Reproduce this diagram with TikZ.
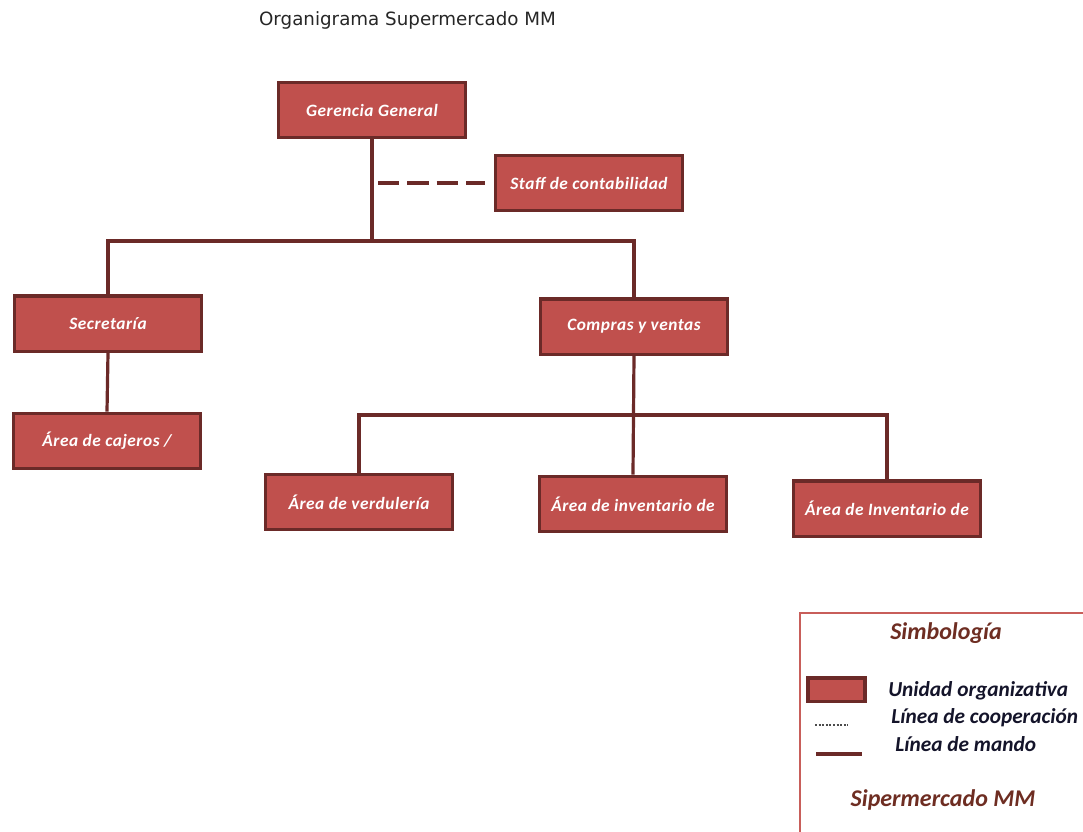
\documentclass[tikz,border=0pt]{standalone}
\usepackage{fontspec}
\setmainfont{Carlito}
\newfontfamily\unitfont[LetterSpace=3]{Carlito}
\newfontfamily\legendfont{Carlito}
\newfontfamily\titlefont{DejaVu Sans}
\definecolor{unitfill}{HTML}{C0504D}
\definecolor{unitline}{HTML}{6B2A28}
\definecolor{framecol}{HTML}{C85E5A}
\definecolor{headcol}{HTML}{6E2D22}
\definecolor{legtext}{HTML}{14142A}
\tikzset{
  unit/.style={draw=unitline, fill=unitfill, line width=2.6pt,
    minimum width=140pt, minimum height=41.6pt, inner sep=0pt,
    text=white, font=\unitfont\bfseries\itshape\fontsize{13}{15}\selectfont},
  mando/.style={draw=unitline, line width=2.4pt},
  coop/.style={draw=unitline, line width=3pt, dash pattern=on 16pt off 6pt},
  legendframe/.style={draw=framecol, line width=2.2pt},
  legendunit/.style={draw=unitline, fill=unitfill, line width=2.6pt,
    minimum width=43pt, minimum height=17.6pt, inner sep=0pt},
  legitem/.style={anchor=west, inner sep=0pt, text=legtext,
    font=\legendfont\bfseries\itshape\fontsize{16}{18}\selectfont},
  leghead/.style={inner sep=0pt, text=headcol,
    font=\legendfont\bfseries\itshape\fontsize{18}{20}\selectfont},
  titletext/.style={inner sep=0pt, text=black!85,
    font=\titlefont\fontsize{13.7}{15}\selectfont}
}
\begin{document}
\begin{tikzpicture}[x=0.75pt, y=-0.75pt]
\useasboundingbox (0,0) rectangle (1083,832);
\clip (0,0) rectangle (1083,832);

% title
\node[titletext] (title) at (407.5,20) {Organigrama Supermercado MM};

% organisational units
\node[unit] (gg)    at (372,110)   {Gerencia General};
\node[unit] (staff) at (589,183)   {Staff de contabilidad};
\node[unit] (sec)   at (108,323.5) {Secretaría};
\node[unit] (cv)    at (634,326.5) {Compras y ventas};
\node[unit] (caj)   at (107,441)   {Área de cajeros /};
\node[unit] (verd)  at (359,502)   {Área de verdulería};
\node[unit] (inv1)  at (633,504)   {Área de inventario de};
\node[unit] (inv2)  at (887,508.5) {Área de Inventario de};

% bus points of the command lines
\coordinate (bus1) at (372,241);
\coordinate (bus2) at (633,415);

% command lines
\draw[mando] (gg.south) -- (bus1);
\draw[mando] (sec.north) |- (bus1) -| (cv.north);
\draw[mando] (sec.south) -- (caj.north);
\draw[mando] (cv.south) -- (inv1.north);
\draw[mando] (verd.north) |- (bus2) -| (inv2.north);

% cooperation line
\draw[coop, shorten <=4.5pt, shorten >=6.5pt] (gg.south |- staff.west) -- (staff.west);

% legend
\draw[legendframe] (800,613) rectangle (1100,850);
\node[leghead] (lhead) at (946,633) {Simbología};
\node[legendunit] (lunit) at (836.5,689.5) {};
\coordinate (lcoopa) at (815,725);
\coordinate (lcoopb) at (848,725);
\draw[black!70, line width=0.8pt, dash pattern=on 1.5pt off 1.2pt] (lcoopa) -- (lcoopb);
\coordinate (lmanda) at (816,754);
\coordinate (lmandb) at (862,754);
\draw[mando, line width=3pt] (lmanda) -- (lmandb);
\node[legitem] (lt1) at (888,691) {Unidad organizativa};
\node[legitem] (lt2) at (891,718) {Línea de cooperación};
\node[legitem] (lt3) at (895,744) {Línea de mando};
\node[leghead] (lfoot) at (943,800) {Sipermercado MM};
\end{tikzpicture}
\end{document}
